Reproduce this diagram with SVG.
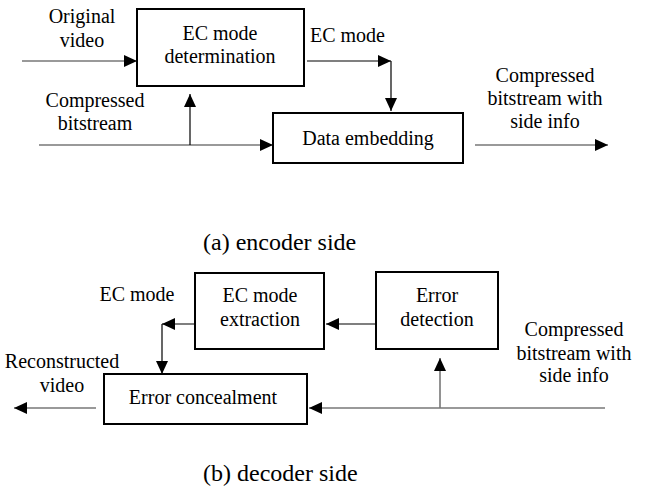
<svg xmlns="http://www.w3.org/2000/svg" width="645" height="489" viewBox="0 0 645 489" font-family="Liberation Serif, DejaVu Serif, serif">
<style>
text{font-family:'Liberation Serif','DejaVu Serif',serif;font-size:20px;fill:#000;text-anchor:middle}
.cap{font-size:24px;text-anchor:start}
.box{fill:#fff;stroke:#000;stroke-width:2}
.g{stroke:#777;stroke-width:1.6;fill:none}
.k{stroke:#000;stroke-width:1.2;fill:none}
</style>
<defs>
<marker id="ah" markerUnits="userSpaceOnUse" markerWidth="13" markerHeight="12" refX="13" refY="6" orient="auto">
<polygon points="0,0 13,6 0,12" fill="#000"/>
</marker>
</defs>
<g id="connectors">
<line class="g" x1="22" y1="61" x2="137" y2="61" marker-end="url(#ah)"/>
<line class="g" x1="39" y1="145" x2="273" y2="145" marker-end="url(#ah)"/>
<line class="k" x1="190" y1="145" x2="190" y2="94" marker-end="url(#ah)"/>
<line class="k" x1="307" y1="61" x2="391" y2="61" marker-end="url(#ah)"/>
<line class="k" x1="391" y1="61" x2="391" y2="111" marker-end="url(#ah)"/>
<line class="g" x1="475" y1="145" x2="608" y2="145" marker-end="url(#ah)"/>
<line class="k" x1="376" y1="324" x2="326" y2="324" marker-end="url(#ah)"/>
<line class="k" x1="195" y1="324" x2="162" y2="324" marker-end="url(#ah)"/>
<line class="k" x1="162" y1="324" x2="162" y2="374" marker-end="url(#ah)"/>
<line class="g" x1="605" y1="408" x2="309" y2="408" marker-end="url(#ah)"/>
<line class="g" x1="440" y1="408" x2="440" y2="358" marker-end="url(#ah)"/>
<line class="g" x1="96" y1="408" x2="14" y2="408" marker-end="url(#ah)"/>
</g>
<g id="ec-mode-determination">
<rect class="box" x="137" y="9" width="167" height="77"/>
<text x="220" y="40">EC mode</text>
<text x="220" y="63">determination</text>
</g>
<g id="data-embedding">
<rect class="box" x="273" y="113" width="190" height="50"/>
<text x="368" y="145">Data embedding</text>
</g>
<g id="ec-mode-extraction">
<rect class="box" x="195" y="273" width="129" height="76"/>
<text x="260" y="302">EC mode</text>
<text x="260" y="326">extraction</text>
</g>
<g id="error-detection">
<rect class="box" x="376" y="272" width="122" height="77"/>
<text x="437" y="302">Error</text>
<text x="437" y="326">detection</text>
</g>
<g id="error-concealment">
<rect class="box" x="104" y="374" width="203" height="50"/>
<text x="203" y="404">Error concealment</text>
</g>
<g id="labels">
<text x="82" y="23">Original</text>
<text x="82" y="47">video</text>
<text x="95" y="107">Compressed</text>
<text x="95" y="130">bitstream</text>
<text x="310" y="42" style="text-anchor:start">EC mode</text>
<text x="545" y="82">Compressed</text>
<text x="545" y="105">bitstream with</text>
<text x="545" y="128">side info</text>
<text class="cap" x="203" y="250">(a) encoder side</text>
<text x="137" y="301">EC mode</text>
<text x="62" y="368">Reconstructed</text>
<text x="62" y="392">video</text>
<text x="574" y="336">Compressed</text>
<text x="574" y="360">bitstream with</text>
<text x="574" y="382">side info</text>
<text class="cap" x="203" y="481">(b) decoder side</text>
</g>
</svg>
